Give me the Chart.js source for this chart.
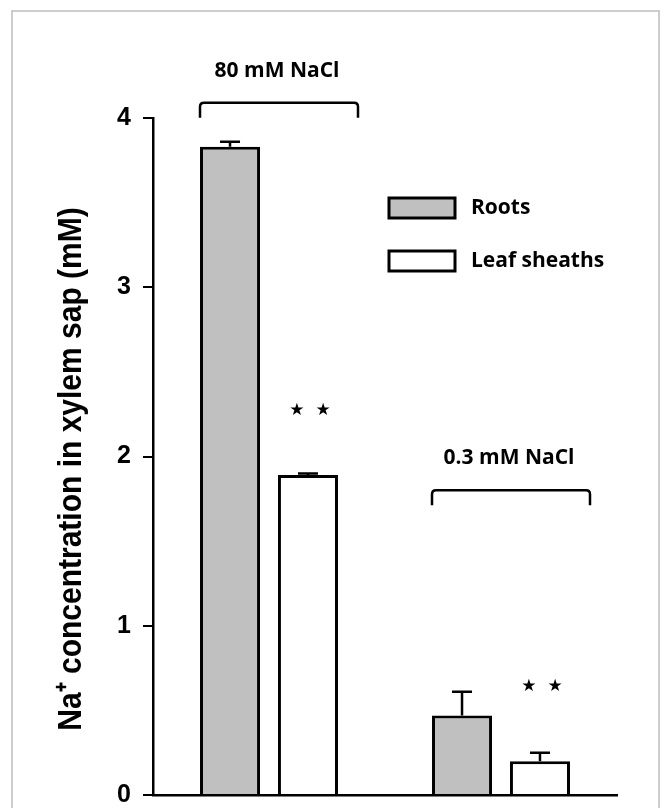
<!doctype html>
<html lang="en">
<head>
<meta charset="utf-8">
<title>Na+ concentration in xylem sap</title>
<style>
  * { margin: 0; padding: 0; }
  body { width: 663px; height: 808px; background: #fff; overflow: hidden; position: relative; }
  .frame { position: absolute; left: 11px; top: 10px; width: 645px; height: 830px; border: 2px solid #cdcdcd; }
  .chartBox { position: absolute; left: 0; top: 0; width: 663px; height: 808px; }
</style>
</head>
<body>
<div class="frame"></div>
<div class="chartBox"><canvas id="myChart" width="663" height="808"></canvas></div>
<script src="https://cdn.jsdelivr.net/npm/chart.js"></script>
<script>
  // data
  const groups = ['80 mM NaCl', '0.3 mM NaCl'];
  const rootsValues = [3.83, 0.47];
  const rootsErrors = [0.03, 0.14];
  const sheathValues = [1.89, 0.20];
  const sheathErrors = [0.01, 0.05];
  const yTicks = [0, 1, 2, 3, 4];
  const bracketLevels = [4.09, 1.80];
  const starLevels = [2.27, 0.64];
  const starMarks = ['\u2605  \u2605', '\u2605  \u2605'];
  const yTitle = 'Na\u207A concentration in xylem sap (mM)';

  const labelFont = 'bold 21px "Open Sans"';

  const data = {
    labels: groups,
    datasets: [{
      label: 'Roots',
      data: rootsValues,
      errors: rootsErrors,
      backgroundColor: '#c0c0c0',
      borderColor: '#000',
      borderWidth: 3,
      categoryPercentage: 0.672,
      barPercentage: 0.77
    }, {
      label: 'Leaf sheaths',
      data: sheathValues,
      errors: sheathErrors,
      backgroundColor: '#fff',
      borderColor: '#000',
      borderWidth: 3,
      categoryPercentage: 0.672,
      barPercentage: 0.77
    }]
  };

  // error bars, upper side only
  const errorBars = {
    id: 'errorBars',
    afterDatasetsDraw(chart) {
      const { ctx, scales: { y } } = chart;
      ctx.save();
      ctx.strokeStyle = '#000';
      ctx.lineWidth = 2.5;
      chart.data.datasets.forEach((ds, i) => {
        chart.getDatasetMeta(i).data.forEach((bar, j) => {
          const top = y.getPixelForValue(ds.data[j] + ds.errors[j]);
          ctx.beginPath();
          ctx.moveTo(bar.x, bar.y);
          ctx.lineTo(bar.x, top);
          ctx.moveTo(bar.x - 10, top);
          ctx.lineTo(bar.x + 10, top);
          ctx.stroke();
        });
      });
      ctx.restore();
    }
  };

  // brackets with group names, stars over leaf sheaths
  const groupBrackets = {
    id: 'groupBrackets',
    afterDraw(chart) {
      const { ctx, scales: { x, y } } = chart;
      ctx.save();
      ctx.strokeStyle = '#000';
      ctx.fillStyle = '#000';
      ctx.lineWidth = 2.5;
      ctx.textAlign = 'center';
      groups.forEach((g, i) => {
        const cx = x.getPixelForValue(i) + 10;
        const by = y.getPixelForValue(bracketLevels[i]);
        const half = 79;
        ctx.beginPath();
        ctx.moveTo(cx - half, by + 15);
        ctx.lineTo(cx - half, by + 4);
        ctx.quadraticCurveTo(cx - half, by, cx - half + 4, by);
        ctx.lineTo(cx + half - 4, by);
        ctx.quadraticCurveTo(cx + half, by, cx + half, by + 4);
        ctx.lineTo(cx + half, by + 15);
        ctx.stroke();
        ctx.font = labelFont;
        ctx.textBaseline = 'alphabetic';
        ctx.fillText(g, cx - 2, by - 26);

        const bar = chart.getDatasetMeta(1).data[i];
        ctx.font = '17px "DejaVu Sans"';
        ctx.textBaseline = 'middle';
        ctx.fillText(starMarks[i], bar.x + 2, y.getPixelForValue(starLevels[i]));
      });
      ctx.restore();
    }
  };

  // legend inside the plot, plus the rotated y title
  const sideLegend = {
    id: 'sideLegend',
    afterDraw(chart) {
      const { ctx } = chart;
      ctx.save();
      ctx.font = labelFont;
      ctx.textBaseline = 'middle';
      ctx.textAlign = 'left';
      chart.data.datasets.forEach((ds, i) => {
        const yy = 208 + i * 53;
        ctx.fillStyle = ds.backgroundColor;
        ctx.fillRect(389, yy - 10, 66, 20);
        ctx.strokeStyle = '#000';
        ctx.lineWidth = 3;
        ctx.strokeRect(389, yy - 10, 66, 20);
        ctx.fillStyle = '#000';
        ctx.fillText(ds.label, 471, yy);
      });

      ctx.translate(72, 469);
      ctx.rotate(-Math.PI / 2);
      ctx.scale(1, 1.12);
      ctx.textAlign = 'center';
      ctx.font = 'bold 30px "Liberation Sans"';
      ctx.fillText(yTitle, 0, 0);
      ctx.restore();
    }
  };

  const config = {
    type: 'bar',
    data,
    options: {
      responsive: false,
      animation: false,
      layout: { padding: { left: 0, top: 118, right: 46, bottom: 13 } },
      plugins: { legend: { display: false }, tooltip: { enabled: false } },
      scales: {
        x: {
          ticks: { display: false },
          grid: { display: false },
          border: { color: '#000', width: 2.5 },
          afterFit(scale) { scale.height = 0; }
        },
        y: {
          min: 0,
          max: 4,
          afterBuildTicks(scale) { scale.ticks = yTicks.map(v => ({ value: v })); },
          ticks: {
            color: '#000',
            padding: 12,
            font: { family: '"Liberation Sans"', size: 25, weight: 'bold' }
          },
          grid: { drawOnChartArea: false, tickLength: 10, color: '#000', lineWidth: 2 },
          border: { color: '#000', width: 2.5 },
          afterFit(scale) {
            scale.width = 153;
            scale.paddingTop = 0;
            scale.paddingBottom = 0;
          }
        }
      }
    },
    plugins: [errorBars, groupBrackets, sideLegend]
  };

  const myChart = new Chart(document.getElementById('myChart'), config);
</script>
</body>
</html>
